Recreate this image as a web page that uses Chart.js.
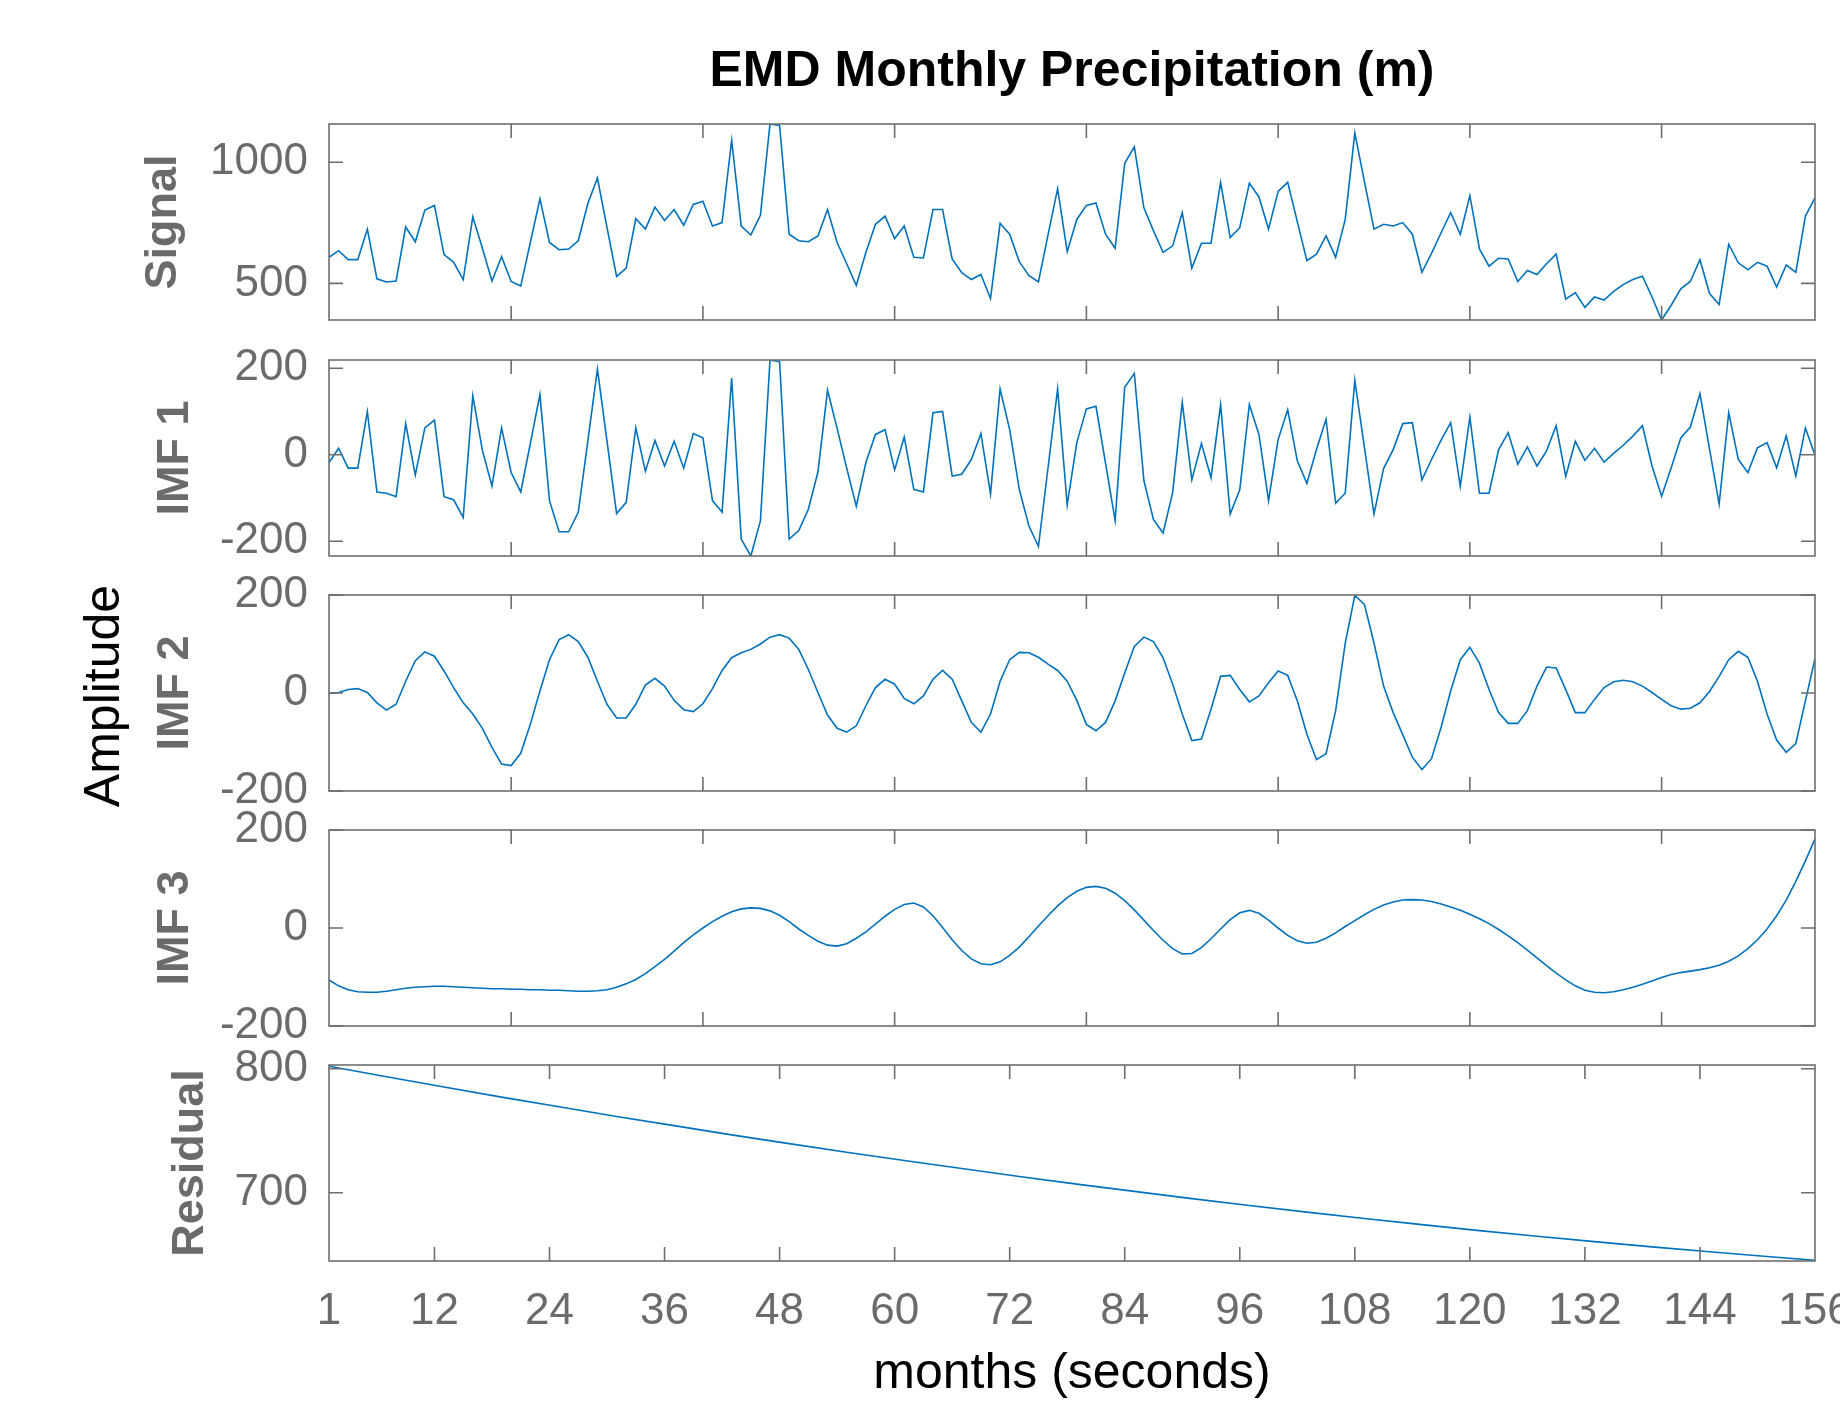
<!DOCTYPE html>
<html>
<head>
<meta charset="utf-8">
<script src="https://cdn.jsdelivr.net/npm/chart.js@4.4.1/dist/chart.umd.min.js"></script>
<style>
  html, body { margin: 0; padding: 0; background: #fff; overflow: hidden; width: 1840px; height: 1403px; }
  canvas { position: absolute; left: 0; }
  #amplitude {
    position: absolute; left: -97px; top: 666px; width: 400px; height: 60px;
    line-height: 60px; text-align: center; font: 50px "Liberation Sans", Arial, sans-serif;
    color: #000; transform: rotate(-90deg);
  }
</style>
</head>
<body>
<canvas id="signal" width="1885" height="370" style="top:0px"></canvas>
<canvas id="imf1" width="1885" height="296" style="top:310px"></canvas>
<canvas id="imf2" width="1885" height="296" style="top:545px"></canvas>
<canvas id="imf3" width="1885" height="296" style="top:780px"></canvas>
<canvas id="residual" width="1885" height="389" style="top:1015px"></canvas>
<div id="amplitude">Amplitude</div>
<script>
// months 1..156
var months = [];
for (var m = 1; m <= 156; m++) months.push(m);

var signalValues = [
  608, 635, 598, 598, 724, 519, 506, 510, 733, 672, 803, 822,
  619, 587, 516, 775, 645, 510, 610, 508, 489, 669, 849, 669,
  639, 642, 676, 830, 935, 730, 529, 563, 767, 724, 815, 760,
  805, 740, 826, 839, 737, 751, 1091, 737, 700, 781, 1158, 1152,
  703, 676, 672, 696, 805, 669, 581, 492, 628, 744, 778, 685,
  737, 608, 605, 805, 805, 601, 544, 516, 537, 437, 748, 703,
  590, 533, 506, 700, 891, 631, 764, 822, 832, 703, 645, 996,
  1064, 812, 717, 628, 655, 792, 563, 666, 666, 917, 689, 730,
  914, 857, 724, 880, 917, 755, 594, 621, 696, 608, 764, 1121,
  921, 724, 744, 737, 751, 703, 546, 624, 709, 792, 703, 862,
  642, 571, 604, 601, 508, 553, 537, 581, 621, 435, 462, 401,
  444, 431, 467, 495, 516, 530, 444, 349, 410, 478, 508, 598,
  458, 413, 662, 585, 556, 587, 571, 485, 576, 546, 778, 853
];

var imf1Values = [
  -18, 15, -31, -31, 100, -86, -89, -97, 72, -47, 62, 80,
  -97, -104, -145, 136, 10, -72, 62, -41, -86, 26, 139, -106,
  -178, -178, -133, 32, 198, 31, -136, -110, 62, -38, 33, -26,
  31, -31, 49, 39, -106, -133, 177, -195, -234, -153, 219, 215,
  -195, -175, -126, -40, 149, 61, -31, -119, -18, 47, 58, -35,
  41, -80, -86, 97, 100, -49, -45, -11, 49, -91, 152, 58,
  -80, -164, -212, -30, 152, -116, 28, 106, 112, -20, -152, 156,
  188, -60, -150, -181, -87, 121, -58, 26, -53, 116, -137, -81,
  116, 47, -106, 35, 104, -14, -66, 12, 82, -112, -89, 172,
  17, -137, -32, 12, 72, 74, -58, -11, 34, 74, -73, 87,
  -89, -89, 12, 51, -22, 18, -26, 9, 67, -50, 31, -13,
  15, -17, 3, 22, 43, 67, -26, -96, -30, 39, 64, 141,
  13, -114, 97, -11, -41, 16, 28, -30, 44, -49, 62, -1
];

var imf2Values = [
  -1, 1, 7, 9, 1, -20, -35, -23, 24, 66, 84, 75,
  45, 11, -20, -43, -72, -111, -145, -148, -123, -64, 4, 68,
  109, 119, 105, 73, 24, -23, -51, -51, -23, 16, 30, 14,
  -15, -34, -38, -22, 9, 46, 72, 82, 89, 100, 114, 119,
  112, 89, 48, 1, -45, -72, -80, -67, -26, 11, 28, 18,
  -11, -22, -6, 28, 46, 28, -16, -60, -80, -43, 24, 68,
  83, 82, 73, 59, 46, 24, -15, -64, -77, -60, -16, 41,
  95, 114, 105, 72, 18, -43, -97, -94, -33, 34, 36, 7,
  -18, -6, 21, 45, 36, -16, -84, -136, -124, -36, 102, 199,
  181, 102, 14, -40, -85, -131, -156, -134, -70, 4, 68, 93,
  61, 7, -40, -62, -62, -36, 14, 53, 51, 7, -40, -40,
  -13, 11, 23, 26, 23, 14, 1, -13, -26, -33, -31, -20,
  3, 34, 68, 85, 73, 24, -43, -96, -121, -103, -16, 70
];

var imf3Values = [
  -106, -118, -126, -130, -131, -131, -129, -126, -123, -121, -120, -119,
  -119, -120, -121, -122, -123, -124, -124, -125, -125, -126, -126, -127,
  -127, -128, -129, -129, -128, -126, -121, -114, -105, -93, -79, -64,
  -47, -30, -14, 0, 13, 24, 33, 39, 41, 40, 35, 26,
  13, -2, -15, -27, -35, -37, -32, -21, -8, 8, 24, 38,
  48, 51, 43, 25, 1, -24, -46, -63, -73, -75, -69, -56,
  -39, -18, 4, 25, 45, 62, 75, 83, 85, 81, 71, 56,
  37, 16, -5, -25, -42, -53, -52, -40, -22, -2, 17, 31,
  36, 30, 16, 0, -15, -26, -31, -29, -21, -10, 3, 15,
  27, 38, 47, 53, 57, 58, 57, 54, 49, 43, 36, 28,
  19, 9, -3, -16, -30, -45, -61, -77, -92, -106, -118, -127,
  -131, -132, -130, -126, -121, -115, -108, -101, -95, -91, -88, -85,
  -81, -76, -68, -57, -42, -24, -2, 25, 57, 95, 137, 182
];

// residual is a smooth trend, read every 6 months
var residualMonths = [1, 7, 13, 19, 25, 31, 37, 43, 49, 55, 61, 67, 73, 79,
  85, 91, 97, 103, 109, 115, 121, 127, 133, 139, 145, 151, 156];
var residualValues = [802.0, 793.5, 785.2, 777.1, 769.3, 761.5, 754.1, 746.7, 739.6,
  732.7, 726.0, 719.5, 713.1, 707.0, 701.1, 695.3, 689.8, 684.4, 679.3, 674.3,
  669.5, 665.0, 660.6, 656.4, 652.4, 648.6, 645.6];

var innerMonthTicks = [20, 40, 60, 80, 100, 120, 140];
var residualMonthTicks = [1, 12, 24, 36, 48, 60, 72, 84, 96, 108, 120, 132, 144, 156];
var signalTicks = [500, 1000];
var imfTicks = [-200, 0, 200];
var residualTicks = [700, 800];

var FONT = '"Liberation Sans", Arial, Helvetica, sans-serif';
var LINE_COLOR = '#0072BD';
var AXIS_COLOR = '#6e6e6e';
var LABEL_COLOR = '#6b6b6b';
var TICK_LEN = 14;
var AXIS_LEFT = 329;
var PAD_RIGHT = 70; // canvas is 1885 wide -> plot box ends at x=1815

Chart.defaults.font.family = FONT;

// MATLAB-ish box with inward tick marks on all four sides
var boxPlugin = {
  id: 'matlabBox',
  afterDatasetsDraw: function (chart, args, opts) {
    var a = chart.chartArea, ctx = chart.ctx;
    var xs = chart.scales.x, ys = chart.scales.y;
    ctx.save();
    ctx.strokeStyle = AXIS_COLOR;
    ctx.lineWidth = 1.6;
    ctx.beginPath();
    (opts.xTicks || []).forEach(function (v) {
      var px = xs.getPixelForValue(v);
      ctx.moveTo(px, a.bottom); ctx.lineTo(px, a.bottom - TICK_LEN);
      ctx.moveTo(px, a.top); ctx.lineTo(px, a.top + TICK_LEN);
    });
    (opts.yTicks || []).forEach(function (v) {
      var py = ys.getPixelForValue(v);
      ctx.moveTo(a.left, py); ctx.lineTo(a.left + TICK_LEN, py);
      ctx.moveTo(a.right, py); ctx.lineTo(a.right - TICK_LEN, py);
    });
    ctx.stroke();
    ctx.strokeRect(a.left, a.top, a.right - a.left, a.bottom - a.top);
    ctx.restore();
  }
};

function toPoints(xs, ys) {
  return xs.map(function (x, i) { return {x: x, y: ys[i]}; });
}

function makePanel(id, cfg) {
  var ctx = document.getElementById(id).getContext('2d');
  var xScale = {
    type: 'linear', min: 1, max: 156, display: false
  };
  if (cfg.showX) {
    xScale = {
      type: 'linear', min: 1, max: 156, position: 'bottom',
      afterBuildTicks: function (s) {
        s.ticks = residualMonthTicks.map(function (v) { return {value: v}; });
      },
      afterFit: function (s) { s.height = 143; },
      grid: {display: false, drawTicks: false},
      border: {display: false},
      ticks: {
        autoSkip: false, maxRotation: 0, padding: 24, color: LABEL_COLOR,
        font: {size: 44}, callback: function (v) { return String(v); }
      },
      title: {
        display: true, text: 'months (seconds)', color: '#000',
        font: {size: 50}, padding: {top: 0, bottom: 0}
      }
    };
  }
  return new Chart(ctx, {
    type: 'line',
    data: {
      datasets: [{
        data: toPoints(cfg.months || months, cfg.values),
        borderColor: LINE_COLOR,
        borderWidth: 1.6,
        pointRadius: 0,
        tension: 0,
        fill: false
      }]
    },
    options: {
      responsive: false,
      animation: false,
      devicePixelRatio: 1,
      layout: {padding: {left: cfg.padLeft, right: PAD_RIGHT, top: cfg.padTop, bottom: cfg.padBottom}},
      plugins: {
        legend: {display: false},
        tooltip: {enabled: false},
        title: cfg.title || {display: false},
        matlabBox: {xTicks: cfg.xTicks, yTicks: cfg.yTicks}
      },
      scales: {
        x: xScale,
        y: {
          min: cfg.min,
          max: cfg.max,
          afterBuildTicks: function (s) {
            s.ticks = cfg.yTicks.map(function (v) { return {value: v}; });
          },
          afterFit: function (s) { s.width = AXIS_LEFT - cfg.padLeft; },
          grid: {display: false, drawTicks: false},
          border: {display: false},
          ticks: {
            autoSkip: false, padding: 21, color: LABEL_COLOR, font: {size: 44},
            callback: function (v) { return String(v); }
          },
          title: {
            display: true, text: cfg.label, color: LABEL_COLOR,
            font: {size: 45, weight: 'bold'}, padding: {top: 0, bottom: 0}
          }
        }
      }
    },
    plugins: [boxPlugin]
  });
}

makePanel('signal', {
  values: signalValues, label: 'Signal', min: 349, max: 1158,
  yTicks: signalTicks, xTicks: innerMonthTicks,
  padLeft: 137, padTop: 0, padBottom: 50,
  title: {
    display: true, text: 'EMD Monthly Precipitation (m)', color: '#000', fullSize: false,
    font: {size: 50, weight: 'bold'}, padding: {top: 42, bottom: 22}
  }
});
makePanel('imf1', {
  values: imf1Values, label: 'IMF 1', min: -234, max: 219,
  yTicks: imfTicks, xTicks: innerMonthTicks, padLeft: 149, padTop: 50, padBottom: 50
});
makePanel('imf2', {
  values: imf2Values, label: 'IMF 2', min: -200, max: 200,
  yTicks: imfTicks, xTicks: innerMonthTicks, padLeft: 149, padTop: 50, padBottom: 50
});
makePanel('imf3', {
  values: imf3Values, label: 'IMF 3', min: -200, max: 200,
  yTicks: imfTicks, xTicks: innerMonthTicks, padLeft: 149, padTop: 50, padBottom: 50
});
makePanel('residual', {
  months: residualMonths, values: residualValues, label: 'Residual', min: 645, max: 803,
  yTicks: residualTicks, xTicks: residualMonthTicks.slice(1, -1),
  padLeft: 164, padTop: 50, padBottom: 0, showX: true
});
</script>
</body>
</html>
